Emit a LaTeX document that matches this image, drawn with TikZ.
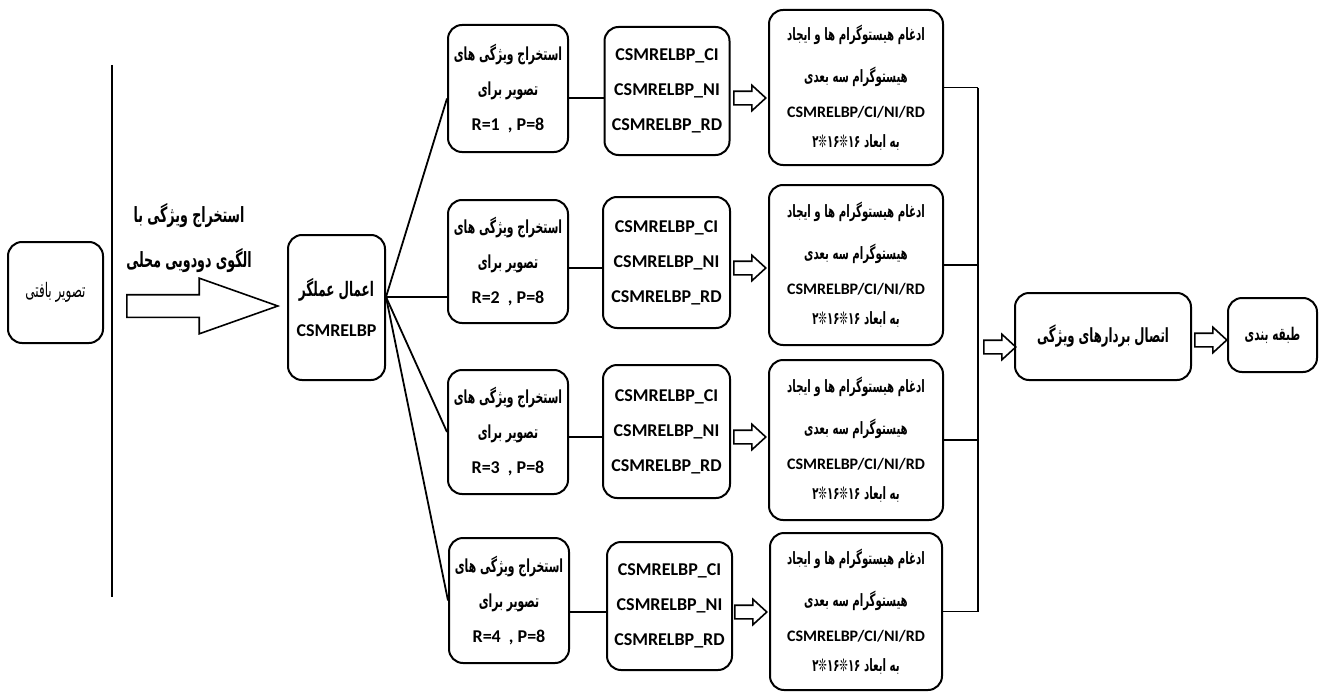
\documentclass[tikz,border=0pt]{standalone}
\usepackage{fontspec}
\setmainfont{Carlito}
\newfontfamily\fa[Script=Arabic, FakeStretch=0.6]{DejaVu Sans}
\TeXXeTstate=1
\usetikzlibrary{shapes.arrows}

% Persian text, one line, right to left
\newcommand{\fatext}[2][17]{{\fa\fontsize{#1}{16}\selectfont\beginR #2\endR}}

\begin{document}
\begin{tikzpicture}[
	x=1pt, y=-1pt,
	% Define the style for the boxes, the lines and the hollow arrows
	box/.style={draw, line width=2pt, rounded corners=14pt, align=center, inner sep=0pt,
		font=\bfseries\fontsize{18}{35}\selectfont},
	histbox/.style={box, minimum width=174pt, font=\bfseries\fontsize{16}{33}\selectfont},
	link/.style={line width=1.8pt},
	arr/.style={single arrow, draw, line width=1.6pt, inner xsep=0pt, inner ysep=6pt,
		minimum height=32pt, minimum width=24pt, anchor=tail,
		single arrow head extend=6pt, single arrow tip angle=85}
	]
	\useasboundingbox (0,0) rectangle (1320,693);
	
	% --- INPUT ---
	\node[box, font=\fontsize{13}{16}\selectfont, minimum width=95pt, minimum height=101pt]
		(img) at (55.5, 292.5) {\fatext[20]{تصویر بافتی}};
	\draw[link] (112, 65) -- (112, 597);
	\node[align=center, font=\bfseries\fontsize{18}{45}\selectfont]
		(lbp) at (189, 238) {\fatext[21]{استخراج ویژگی با}\\ \fatext[21]{الگوی دودویی محلی}};
	\node[arr, minimum height=151pt, minimum width=54pt, inner ysep=10.5pt,
		single arrow head extend=16.5pt, single arrow tip angle=39]
		(big) at (126, 306) {};
	\node[box, minimum width=97pt, minimum height=145pt, font=\bfseries\fontsize{18}{40}\selectfont]
		(op) at (336.5, 307.5) {\fatext[20]{اعمال عملگر}\\ CSMRELBP};
	
	% --- FOUR RADII ---
	% Format: \node[box] (name) at (x,y) {text};
	\node[box, minimum width=120pt, minimum height=127pt] (r1) at (508, 88.5)
		{\fatext[18]{استخراج ویژگی های}\\ \fatext[18]{تصویر برای}\\ R=1 \ , P=8};
	\node[box, minimum width=120pt, minimum height=123pt] (r2) at (508, 261.5)
		{\fatext[18]{استخراج ویژگی های}\\ \fatext[18]{تصویر برای}\\ R=2 \ , P=8};
	\node[box, minimum width=120pt, minimum height=124pt] (r3) at (508, 432)
		{\fatext[18]{استخراج ویژگی های}\\ \fatext[18]{تصویر برای}\\ R=3 \ , P=8};
	\node[box, minimum width=120pt, minimum height=125pt] (r4) at (509, 600.5)
		{\fatext[18]{استخراج ویژگی های}\\ \fatext[18]{تصویر برای}\\ R=4 \ , P=8};
	
	\node[box, minimum width=125pt, minimum height=128pt] (c1) at (667, 91)
		{CSMRELBP\_CI\\ CSMRELBP\_NI\\ CSMRELBP\_RD};
	\node[box, minimum width=127pt, minimum height=131pt] (c2) at (666.5, 262.5)
		{CSMRELBP\_CI\\ CSMRELBP\_NI\\ CSMRELBP\_RD};
	\node[box, minimum width=127pt, minimum height=133pt] (c3) at (666.5, 431.5)
		{CSMRELBP\_CI\\ CSMRELBP\_NI\\ CSMRELBP\_RD};
	\node[box, minimum width=125pt, minimum height=128pt] (c4) at (669.5, 606)
		{CSMRELBP\_CI\\ CSMRELBP\_NI\\ CSMRELBP\_RD};
	
	\node[arr] (a1) at (733, 98) {};
	\node[arr] (a2) at (733, 268) {};
	\node[arr] (a3) at (733, 437) {};
	\node[arr] (a4) at (734, 612) {};
	
	\node[histbox, minimum height=155pt] (h1) at (856, 87.5)
		{\fatext{ادغام هیستوگرام ها و ایجاد}\\[9pt] \fatext{هیستوگرام سه بعدی}\\[2pt] CSMRELBP/CI/NI/RD\\[-3pt] \fatext{به ابعاد ۱۶❊۱۶❊۲}};
	\node[histbox, minimum height=160pt] (h2) at (856, 265)
		{\fatext{ادغام هیستوگرام ها و ایجاد}\\[9pt] \fatext{هیستوگرام سه بعدی}\\[2pt] CSMRELBP/CI/NI/RD\\[-3pt] \fatext{به ابعاد ۱۶❊۱۶❊۲}};
	\node[histbox, minimum height=160pt] (h3) at (856, 440)
		{\fatext{ادغام هیستوگرام ها و ایجاد}\\[9pt] \fatext{هیستوگرام سه بعدی}\\[2pt] CSMRELBP/CI/NI/RD\\[-3pt] \fatext{به ابعاد ۱۶❊۱۶❊۲}};
	\node[histbox, minimum width=172pt, minimum height=157pt] (h4) at (856, 611.5)
		{\fatext{ادغام هیستوگرام ها و ایجاد}\\[9pt] \fatext{هیستوگرام سه بعدی}\\[2pt] CSMRELBP/CI/NI/RD\\[-3pt] \fatext{به ابعاد ۱۶❊۱۶❊۲}};
	
	% --- OUTPUT ---
	\coordinate (bus) at (978, 0);
	\node[arr] (a5) at (983, 347) {};
	\node[box, minimum width=176pt, minimum height=87pt] (cat) at (1103, 336.5)
		{\fatext[19.5]{اتصال بردارهای ویژگی}};
	\node[arr] (a6) at (1194, 340) {};
	\node[box, minimum width=89pt, minimum height=74pt] (cls) at (1272.5, 335)
		{\fatext[17.5]{طبقه بندی}};
	
	% --- LINES ---
	\coordinate (fan) at ([yshift=10.5pt]op.east);
	\draw[link] (fan) -- ([yshift=-10pt]r1.west);
	\draw[link] (fan) -- (fan -| r2.west);
	\draw[link] (fan) -- (r3.west);
	\draw[link] (fan) -- (r4.west);
	
	\draw[link] (r1.east |- a1.tail) -- (c1.west |- a1.tail);
	\draw[link] (r2.east |- a2.tail) -- (c2.west |- a2.tail);
	\draw[link] (r3.east |- a3.tail) -- (c3.west |- a3.tail);
	\draw[link] (r4.east |- a4.tail) -- (c4.west |- a4.tail);
	
	\draw[link] (h1.east) -- (h1.east -| bus);
	\draw[link] (h2.east) -- (h2.east -| bus);
	\draw[link] (h3.east) -- (h3.east -| bus);
	\draw[link] (h4.east) -- (h4.east -| bus);
	\draw[link] (h1.east -| bus) -- (h4.east -| bus);
	
\end{tikzpicture}
\end{document}
